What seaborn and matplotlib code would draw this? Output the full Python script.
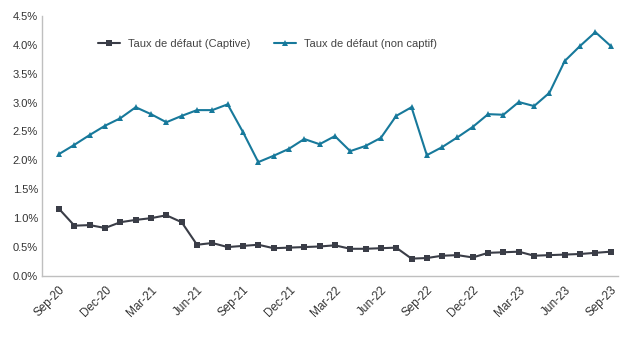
import matplotlib
matplotlib.use("Agg")
import matplotlib.pyplot as plt
import seaborn as sns
import pandas as pd
import numpy as np
from matplotlib.ticker import PercentFormatter

months = pd.date_range("2020-09-01", "2023-09-01", freq="MS")
month_labels = [d.strftime("%b-%y") for d in months]

captive = [1.16, 0.87, 0.88, 0.83, 0.93, 0.97, 1.00, 1.05, 0.93, 0.54, 0.57, 0.50,
           0.52, 0.54, 0.48, 0.49, 0.50, 0.51, 0.53, 0.47, 0.47, 0.48, 0.49, 0.30,
           0.31, 0.35, 0.36, 0.32, 0.40, 0.41, 0.42, 0.35, 0.36, 0.37, 0.38, 0.40, 0.42]
non_captive = [2.11, 2.27, 2.44, 2.60, 2.73, 2.92, 2.80, 2.66, 2.77, 2.87, 2.87, 2.97,
               2.49, 1.97, 2.08, 2.20, 2.37, 2.28, 2.42, 2.16, 2.25, 2.39, 2.77, 2.92,
               2.09, 2.23, 2.40, 2.58, 2.80, 2.79, 3.01, 2.94, 3.17, 3.72, 3.98, 4.22, 3.98]

series_names = ["Taux de défaut (Captive)", "Taux de défaut (non captif)"]
colors = ["#3a3d47", "#17799b"]
markers = ["s", "^"]

sns.set_theme(style="white")
plt.rcParams["font.family"] = ["Liberation Sans", "DejaVu Sans"]

idx = np.arange(len(months))
df = pd.DataFrame({
    "x": np.concatenate([idx, idx]),
    "val": np.array(captive + non_captive) / 100,
    "serie": [series_names[0]] * len(idx) + [series_names[1]] * len(idx),
})

fig = plt.figure(figsize=(6.4, 3.39), dpi=100)
ax = fig.add_axes([0.066, 0.186, 0.899, 0.767])

sns.lineplot(data=df, x="x", y="val", hue="serie", style="serie",
             palette=colors, markers=markers, dashes=False, markersize=5,
             linewidth=1.5, markeredgewidth=0, ax=ax)

ax.set_xlim(-1.1, 36.45)
ax.set_ylim(0, 0.045)
ax.set_yticks(np.arange(0, 0.0451, 0.005))
ax.yaxis.set_major_formatter(PercentFormatter(1.0, decimals=1))
tick_pos = idx[::3]
ax.set_xticks(tick_pos)
ax.set_xticklabels([month_labels[i] for i in tick_pos], rotation=45, ha="right",
                   rotation_mode="anchor")
ax.tick_params(axis="y", labelsize=8, colors="#333333", length=0, pad=3)
ax.tick_params(axis="x", labelsize=8.5, colors="#333333", length=0, pad=6)
ax.set_xlabel("")
ax.set_ylabel("")
for s in ["top", "right"]:
    ax.spines[s].set_visible(False)
for s in ["left", "bottom"]:
    ax.spines[s].set_color("#bfbfbf")
    ax.spines[s].set_linewidth(1)

leg = ax.legend(loc="upper left", bbox_to_anchor=(0.08, 0.95), ncol=2, frameon=False,
                fontsize=8, handlelength=2, columnspacing=2.1, handletextpad=0.7)
for t in leg.get_texts():
    t.set_color("#444444")

fig.savefig("out.png", dpi=100)
